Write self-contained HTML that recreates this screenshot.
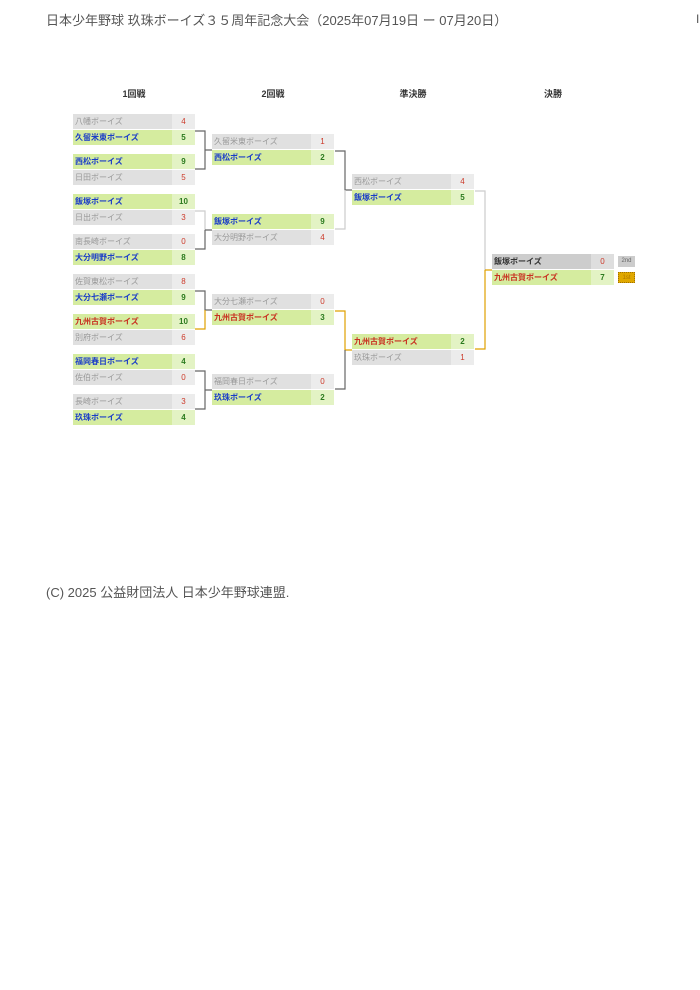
<!DOCTYPE html>
<html><head><meta charset="utf-8"><style>
*{margin:0;padding:0;box-sizing:border-box}
body{width:700px;height:990px;background:#fff;position:relative;overflow:hidden;font-family:"Liberation Sans","Noto Sans CJK JP",sans-serif}
.t{position:absolute;left:46px;top:10px;font-size:13px;color:#555;white-space:nowrap}
.f{position:absolute;left:46px;top:582px;font-size:13px;color:#555;white-space:nowrap}
.h{position:absolute;top:87px;width:122px;text-align:center;font-size:9px;font-weight:bold;color:#333}
.r{position:absolute;width:122px;height:16px;font-size:8px;line-height:16px;border-bottom:1px solid #fff}
.r .n{position:absolute;left:0;top:0;width:99px;height:15px;padding-left:2px;white-space:nowrap;overflow:hidden}
.r .s{position:absolute;left:99px;top:0;width:23px;height:15px;text-align:center;font-weight:bold}
.w .n{background:#d5ec9f;color:#1a3cc8;font-weight:bold}
.w .s{background:#e3f3c4;color:#2b7a1e}
.l .n{background:#e0e0e0;color:#999}
.l .s{background:#ececec;color:#cc3a2a;font-weight:normal}
.c .n{color:#c83020}
.lf .n{background:#cdcdcd;color:#333;font-weight:bold}
.lf .s{background:#dedede;color:#cc3a2a;font-weight:normal}
svg{position:absolute;left:0;top:0}
.tag{position:absolute;width:17px;height:11px;font-size:6px;line-height:11px;text-align:center}
</style></head><body>
<div class="t">日本少年野球 玖珠ボーイズ３５周年記念大会（2025年07月19日 ー 07月20日）</div>
<div style="position:absolute;left:696px;top:12px;font-size:12px;color:#555">I</div>
<div class="h" style="left:73px">1回戦</div>
<div class="h" style="left:212px">2回戦</div>
<div class="h" style="left:352px">準決勝</div>
<div class="h" style="left:492px">決勝</div>

<svg width="700" height="990" fill="none" stroke-width="1.2">
<g stroke="#666"><path d="M195 131H205V169H195M205 150H212"/></g>
<path d="M195 211H205V230" stroke="#ccc"/><path d="M205 230V249H195M205 230H212" stroke="#666"/>
<path d="M195 291H205V310H212" stroke="#666"/><path d="M205 310V329H195" stroke="#e0a000"/>
<path d="M195 371H205V409H195M205 390H212" stroke="#666"/>
<path d="M335 151H345V190H352" stroke="#666"/><path d="M345 190V229H335" stroke="#ccc"/>
<path d="M335 311H345V350H352" stroke="#e0a000"/><path d="M345 350V389H335" stroke="#666"/>
<path d="M475 191H485V270" stroke="#ccc"/><path d="M485 270V349H475M485 270H492" stroke="#e0a000"/>
</svg>

<div class="r l" style="left:73px;top:114px"><div class="n">八幡ボーイズ</div><div class="s">4</div></div>
<div class="r w" style="left:73px;top:130px"><div class="n">久留米東ボーイズ</div><div class="s">5</div></div>
<div class="r w" style="left:73px;top:154px"><div class="n">西松ボーイズ</div><div class="s">9</div></div>
<div class="r l" style="left:73px;top:170px"><div class="n">日田ボーイズ</div><div class="s">5</div></div>
<div class="r w" style="left:73px;top:194px"><div class="n">飯塚ボーイズ</div><div class="s">10</div></div>
<div class="r l" style="left:73px;top:210px"><div class="n">日出ボーイズ</div><div class="s">3</div></div>
<div class="r l" style="left:73px;top:234px"><div class="n">南長崎ボーイズ</div><div class="s">0</div></div>
<div class="r w" style="left:73px;top:250px"><div class="n">大分明野ボーイズ</div><div class="s">8</div></div>
<div class="r l" style="left:73px;top:274px"><div class="n">佐賀東松ボーイズ</div><div class="s">8</div></div>
<div class="r w" style="left:73px;top:290px"><div class="n">大分七瀬ボーイズ</div><div class="s">9</div></div>
<div class="r w c" style="left:73px;top:314px"><div class="n">九州古賀ボーイズ</div><div class="s">10</div></div>
<div class="r l" style="left:73px;top:330px"><div class="n">別府ボーイズ</div><div class="s">6</div></div>
<div class="r w" style="left:73px;top:354px"><div class="n">福岡春日ボーイズ</div><div class="s">4</div></div>
<div class="r l" style="left:73px;top:370px"><div class="n">佐伯ボーイズ</div><div class="s">0</div></div>
<div class="r l" style="left:73px;top:394px"><div class="n">長崎ボーイズ</div><div class="s">3</div></div>
<div class="r w" style="left:73px;top:410px"><div class="n">玖珠ボーイズ</div><div class="s">4</div></div>

<div class="r l" style="left:212px;top:134px"><div class="n">久留米東ボーイズ</div><div class="s">1</div></div>
<div class="r w" style="left:212px;top:150px"><div class="n">西松ボーイズ</div><div class="s">2</div></div>
<div class="r w" style="left:212px;top:214px"><div class="n">飯塚ボーイズ</div><div class="s">9</div></div>
<div class="r l" style="left:212px;top:230px"><div class="n">大分明野ボーイズ</div><div class="s">4</div></div>
<div class="r l" style="left:212px;top:294px"><div class="n">大分七瀬ボーイズ</div><div class="s">0</div></div>
<div class="r w c" style="left:212px;top:310px"><div class="n">九州古賀ボーイズ</div><div class="s">3</div></div>
<div class="r l" style="left:212px;top:374px"><div class="n">福岡春日ボーイズ</div><div class="s">0</div></div>
<div class="r w" style="left:212px;top:390px"><div class="n">玖珠ボーイズ</div><div class="s">2</div></div>

<div class="r l" style="left:352px;top:174px"><div class="n">西松ボーイズ</div><div class="s">4</div></div>
<div class="r w" style="left:352px;top:190px"><div class="n">飯塚ボーイズ</div><div class="s">5</div></div>
<div class="r w c" style="left:352px;top:334px"><div class="n">九州古賀ボーイズ</div><div class="s">2</div></div>
<div class="r l" style="left:352px;top:350px"><div class="n">玖珠ボーイズ</div><div class="s">1</div></div>

<div class="r lf" style="left:492px;top:254px"><div class="n">飯塚ボーイズ</div><div class="s">0</div></div>
<div class="r w c" style="left:492px;top:270px"><div class="n">九州古賀ボーイズ</div><div class="s">7</div></div>
<div class="tag" style="left:618px;top:256px;background:#ccc;color:#666">2nd</div>
<div class="tag" style="left:618px;top:272px;background:#e0a800;color:#b07800;border:1px dotted #a07000">1st</div>

<div class="f">(C) 2025 公益財団法人 日本少年野球連盟.</div>
</body></html>
